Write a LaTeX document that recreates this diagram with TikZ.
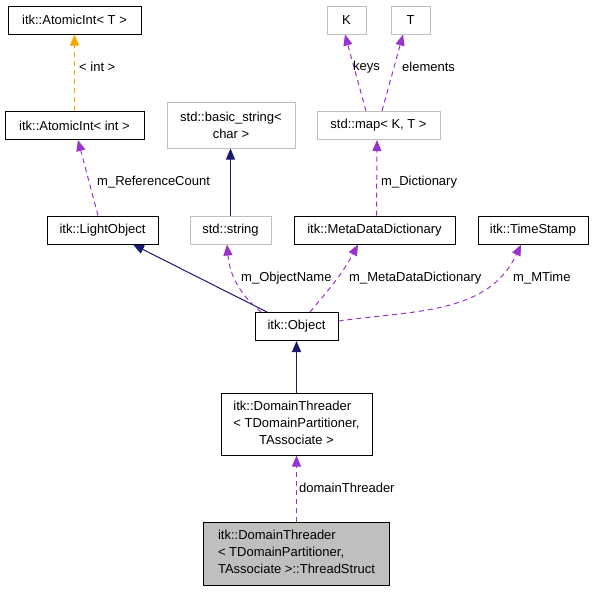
\documentclass[tikz,border=0pt]{standalone}
\usepackage{fontspec}
\setmainfont{Liberation Sans}
\usetikzlibrary{arrows.meta, positioning, calc}
\definecolor{inhcol}{HTML}{191970}
\definecolor{usecol}{HTML}{9A32CD}
\definecolor{tplcol}{HTML}{FFA500}
\definecolor{extcol}{HTML}{BFBFBF}
\begin{document}
\begin{tikzpicture}[
    x=1pt, y=1pt,
    every node/.style={font=\fontsize{13}{17}\selectfont, inner sep=0pt},
    cls/.style={draw=black, line width=1pt, minimum height=28pt},
    ext/.style={draw=extcol, line width=1pt, minimum height=28pt},
    self/.style={cls, fill=extcol},
    inh/.style={-{Triangle[length=11pt, width=9pt]}, inhcol, line width=1pt},
    usage/.style={-{Triangle[length=11pt, width=9pt]}, usecol, line width=1pt, dash pattern=on 5pt off 4pt},
    tpl/.style={-{Triangle[length=11pt, width=9pt]}, tplcol, line width=1pt, dash pattern=on 5pt off 4pt},
    lbl/.style={anchor=west},
]
\useasboundingbox (0,0) rectangle (593,-592);

% Top row
\node[cls, minimum width=133pt] (AtomT) at (74.5,-20) {itk::AtomicInt< T >};
\node[ext, minimum width=39pt] (K) at (346.5,-20) {K};
\node[ext, minimum width=39pt] (T) at (410.5,-20) {T};

% Second row
\node[cls, minimum width=139pt] (AtomInt) at (74.5,-125.5) {itk::AtomicInt< int >};
\node[ext, minimum width=128pt, minimum height=46pt, align=center] (BasicStr) at (231,-125) {std::basic\_string<\\char >};
\node[ext, minimum width=123pt] (Map) at (378.5,-125.5) {std::map< K, T >};

% Third row
\node[cls, minimum width=111pt] (LightObj) at (102.5,-230) {itk::LightObject};
\node[ext, minimum width=81pt] (Str) at (230.5,-230) {std::string};
\node[cls, minimum width=161pt] (MetaDict) at (374.5,-230) {itk::MetaDataDictionary};
\node[cls, minimum width=110pt] (TimeSt) at (533,-230) {itk::TimeStamp};

% Object and threader
\node[cls, minimum width=83pt] (Obj) at (296.5,-326.5) {itk::Object};
\node[cls, minimum width=151pt, minimum height=62pt] (DomThr) at (296.5,-424)
    {\begin{tabular}{@{}l@{}}itk::DomainThreader\\< TDomainPartitioner,\\\multicolumn{1}{@{}c@{}}{TAssociate >}\end{tabular}};
\node[self, minimum width=186pt, minimum height=63pt] (ThrStruct) at (296.5,-553.5)
    {\begin{tabular}{@{}l@{}}itk::DomainThreader\\< TDomainPartitioner,\\\multicolumn{1}{@{}c@{}}{TAssociate >::ThreadStruct}\end{tabular}};

% === EDGES ===
\draw[tpl] (AtomInt.north) -- (AtomT.south);
\node[lbl] (lInt) at (79,-67) {< int >};

\draw[usage] ([xshift=-4.5pt]LightObj.north) -- ([xshift=3.5pt]AtomInt.south);
\node[lbl] (lRef) at (97,-182) {m\_ReferenceCount};

\draw[inh] (Str.north) -- (Str.north |- BasicStr.south);

\draw[usage] ([xshift=-12.5pt]Map.north) -- ([xshift=-1.5pt]K.south);
\node[lbl] (lKeys) at (353,-67) {keys};
\draw[usage] ([xshift=3.5pt]Map.north) -- ([xshift=-7.5pt]T.south);
\node[lbl] (lElem) at (402,-67) {elements};

\draw[usage] ([xshift=2pt]MetaDict.north) -- ([xshift=-1.5pt]Map.south);
\node[lbl] (lDict) at (381,-182) {m\_Dictionary};

\draw[inh] ([xshift=-29.5pt]Obj.north) -- ([xshift=30.5pt]LightObj.south);
\draw[usage] ([xshift=-35.5pt]Obj.north) to[out=140, in=-85] ([xshift=-3.5pt]Str.south);
\node[lbl] (lName) at (241,-278) {m\_ObjectName};
\draw[usage] ([xshift=13.5pt]Obj.north) to[out=50, in=-118] ([xshift=-16.5pt]MetaDict.south);
\node[lbl] (lMeta) at (349,-278) {m\_MetaDataDictionary};
\draw[usage] ([yshift=5.5pt]Obj.east) to[out=8, in=-115] ([xshift=-12pt]TimeSt.south);
\node[lbl] (lTime) at (513,-278) {m\_MTime};

\draw[inh] (DomThr.north) -- (Obj.south);
\draw[usage] (ThrStruct.north) -- (DomThr.south);
\node[lbl] (lDom) at (299,-488) {domainThreader};

\end{tikzpicture}
\end{document}
